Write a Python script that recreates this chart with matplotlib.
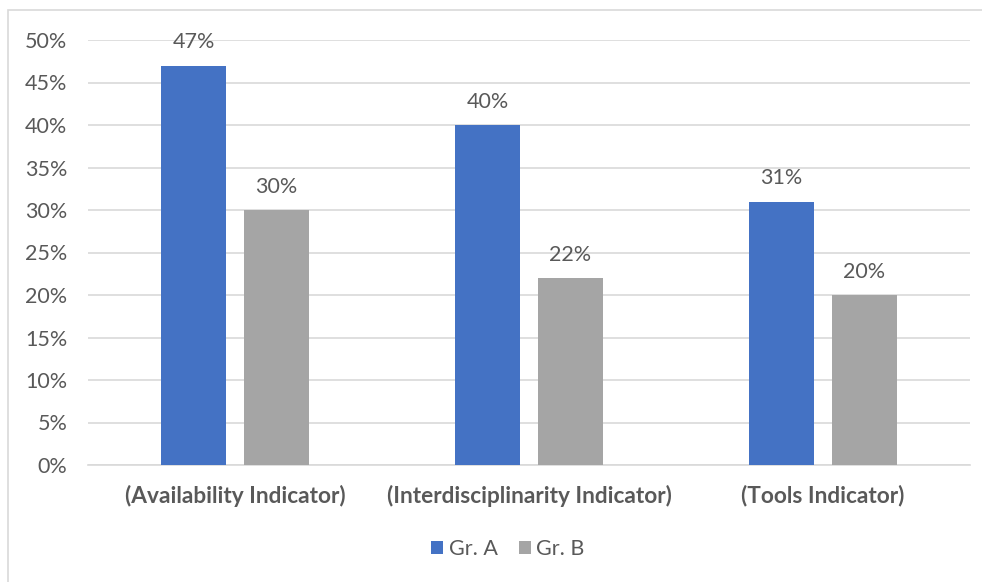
import matplotlib.pyplot as plt
import numpy as np
from matplotlib.patches import Rectangle

categories = ["(Availability Indicator)", "(Interdisciplinarity Indicator)", "(Tools Indicator)"]
series_names = ["Gr. A", "Gr. B"]
gr_a = [0.47, 0.40, 0.31]
gr_b = [0.30, 0.22, 0.20]
yticks = [0, 0.05, 0.10, 0.15, 0.20, 0.25, 0.30, 0.35, 0.40, 0.45, 0.50]

colors = ["#4472C4", "#A5A5A5"]
text_color = "#595959"
grid_color = "#D9D9D9"

plt.rcParams['font.family'] = ['Lato', 'DejaVu Sans']

fig = plt.figure(figsize=(9.82, 5.82), dpi=100)
fig.patches.append(Rectangle((8 / 982, -0.05), 1.2, 1 - 10 / 582 + 0.05,
                             transform=fig.transFigure, fill=False,
                             edgecolor="#D9D9D9", linewidth=1.2))

ax = fig.add_axes([88 / 982, 1 - 465 / 582, (970 - 88) / 982, (465 - 40) / 582])

x = np.arange(len(categories))
width = 0.221
offset = 0.141
bars_a = ax.bar(x - offset, gr_a, width, color=colors[0], label=series_names[0], zorder=3)
bars_b = ax.bar(x + offset, gr_b, width, color=colors[1], label=series_names[1], zorder=3)

for bars, vals in ((bars_a, gr_a), (bars_b, gr_b)):
    for b, v in zip(bars, vals):
        ax.annotate(f"{round(v * 100)}%", (b.get_x() + b.get_width() / 2, v),
                    xytext=(0, 9.5), textcoords="offset points", ha="center", va="bottom",
                    fontsize=15.5, color=text_color)

ax.set_xlim(-0.5, 2.5)
ax.set_ylim(0, 0.5)
ax.set_yticks(yticks)
ax.set_yticklabels([f"{round(t * 100)}%" for t in yticks], fontsize=15.5, color=text_color)
ax.set_xticks(x)
ax.set_xticklabels(categories, fontsize=16.3, color=text_color, fontweight="bold")
ax.tick_params(axis="both", length=0)
ax.tick_params(axis="y", pad=15)
ax.tick_params(axis="x", pad=14)
ax.grid(axis="y", color=grid_color, linewidth=1.2, zorder=0)
for s in ["top", "right", "left"]:
    ax.spines[s].set_visible(False)
ax.spines["bottom"].set_color(grid_color)
ax.spines["bottom"].set_linewidth(1.2)

fig.legend(handles=[bars_a, bars_b], labels=series_names, loc="center",
           bbox_to_anchor=(508 / 982, 1 - 549 / 582), ncol=2, frameon=False,
           fontsize=15.5, labelcolor=text_color, handlelength=0.55, handleheight=0.55,
           handletextpad=0.25, columnspacing=1.0)

fig.savefig("out.png", dpi=100)
